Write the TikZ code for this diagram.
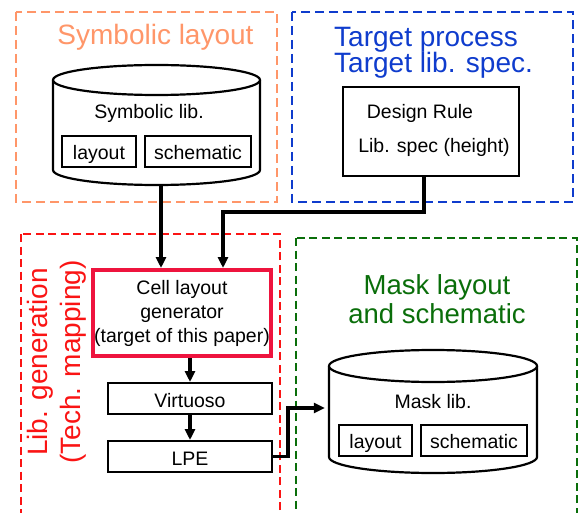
\documentclass[tikz,border=0pt]{standalone}
\usepackage{fontspec}
\setmainfont{Liberation Sans}
\usetikzlibrary{arrows.meta,calc}

\definecolor{symorange}{RGB}{255,150,105}
\definecolor{tgtblue}{RGB}{15,60,205}
\definecolor{genred}{RGB}{250,20,20}
\definecolor{genbox}{RGB}{238,20,62}
\definecolor{maskgreen}{RGB}{10,110,10}

\tikzset{
  group/.style={line width=1.8pt, dash pattern=on 9pt off 5pt},
  heading/.style={font=\fontsize{28}{29}\selectfont, inner sep=0pt},
  label/.style={font=\fontsize{19.5}{24}\selectfont, inner sep=0pt, anchor=base},
  tool/.style={draw, line width=2pt, minimum width=164pt, minimum height=31pt,
    font=\fontsize{19.5}{24}\selectfont, inner sep=0pt,
    text height=19pt, text depth=2pt},
  part/.style={draw, line width=2pt, minimum height=31pt,
    font=\fontsize{19.5}{24}\selectfont, inner sep=0pt,
    text height=19pt, text depth=2pt},
  ghost/.style={inner sep=0pt},
  arr/.style={line width=3.2pt, -{Triangle[length=11pt,width=10pt]}},
  cyl/.style={line width=2.2pt, fill=white}
}

\begin{document}
\begin{tikzpicture}[x=1pt,y=-1pt]
\useasboundingbox (0,0) rectangle (578,513);
\clip (0,0) rectangle (578,513);

% group frames
\draw[group, symorange] (16,12) rectangle (277,202);
\draw[group, tgtblue] (292,12) rectangle (573,202);
\draw[group, genred, line width=1.6pt, dash pattern=on 8pt off 4.5pt] (21,234) rectangle (280,530);
\draw[group, maskgreen, line width=1.6pt, dash pattern=on 8pt off 4.5pt] (296,238) rectangle (577,530);

% group titles
\node[heading, text=symorange] (symtitle) at (155.5,37) {Symbolic layout};
\node[heading, text=tgtblue, align=left, anchor=west, font=\fontsize{28}{26.5}\selectfont]
  (tgttitle) at (334,53) {Target process\\Target lib. spec.};
\node[heading, text=genred, align=center, rotate=90, font=\fontsize{28}{33}\selectfont]
  (gentitle) at (57,362) {Lib. generation\\(Tech. mapping)};
\node[heading, text=maskgreen, align=center, font=\fontsize{27.5}{29}\selectfont]
  (masktitle) at (437,299) {Mask layout\\and schematic};

% symbolic library cylinder
\node[ghost, minimum width=207pt, minimum height=120pt] (symlib) at (156.5,125) {};
\draw[cyl] (53,80) -- (53,170) arc[start angle=180, end angle=360, x radius=103.5pt, y radius=15pt] -- (260,80);
\draw[cyl] (156.5,80) ellipse [x radius=103.5pt, y radius=15pt];
\node[label] (symname) at (149,119) {Symbolic lib.};
\node[part, minimum width=74pt] (symlay) at (99,151.5) {layout};
\node[part, minimum width=106pt] (symsch) at (198,151.5) {schematic};

% target spec box
\node[draw, line width=2pt, minimum width=176pt, minimum height=89pt] (rule) at (431,131.5) {};
\node[label] (rulename) at (420,119) {Design Rule};
\node[label] (specname) at (434,153) {Lib. spec (height)};

% generation flow
\node[draw=genbox, line width=4pt, minimum width=178pt, minimum height=86pt,
  align=center, font=\fontsize{19.5}{24}\selectfont, inner sep=0pt] (gen) at (182,313)
  {Cell layout\\generator\\(target of this paper)};
\node[tool] (vir) at (190,398.5) {Virtuoso};
\node[tool] (lpe) at (190,456.5) {LPE};

% mask library cylinder
\node[ghost, minimum width=208pt, minimum height=123pt] (masklib) at (433,411.5) {};
\draw[cyl] (329,366) -- (329,457) arc[start angle=180, end angle=360, x radius=104pt, y radius=16pt] -- (537,366);
\draw[cyl] (433,366) ellipse [x radius=104pt, y radius=16pt];
\node[label] (maskname) at (433,408) {Mask lib.};
\node[part, minimum width=73pt] (masklay) at (375.5,440) {layout};
\node[part, minimum width=106pt] (masksch) at (474,440) {schematic};

% connectors
\coordinate (bend) at (223,212);
\coordinate (jog) at (288,408);
\draw[arr] ([xshift=4.5pt]symlib.south) -- ([xshift=4.5pt]symlib.south |- gen.north);
\draw[arr] ([xshift=-7pt]rule.south) |- (bend) -- (bend |- gen.north);
\draw[arr] (gen.south -| vir.north) -- (vir.north);
\draw[arr] (vir) -- (lpe);
\draw[arr] (lpe.east) -| (jog) -- ([xshift=-4pt]jog -| masklib.west);
\end{tikzpicture}
\end{document}
